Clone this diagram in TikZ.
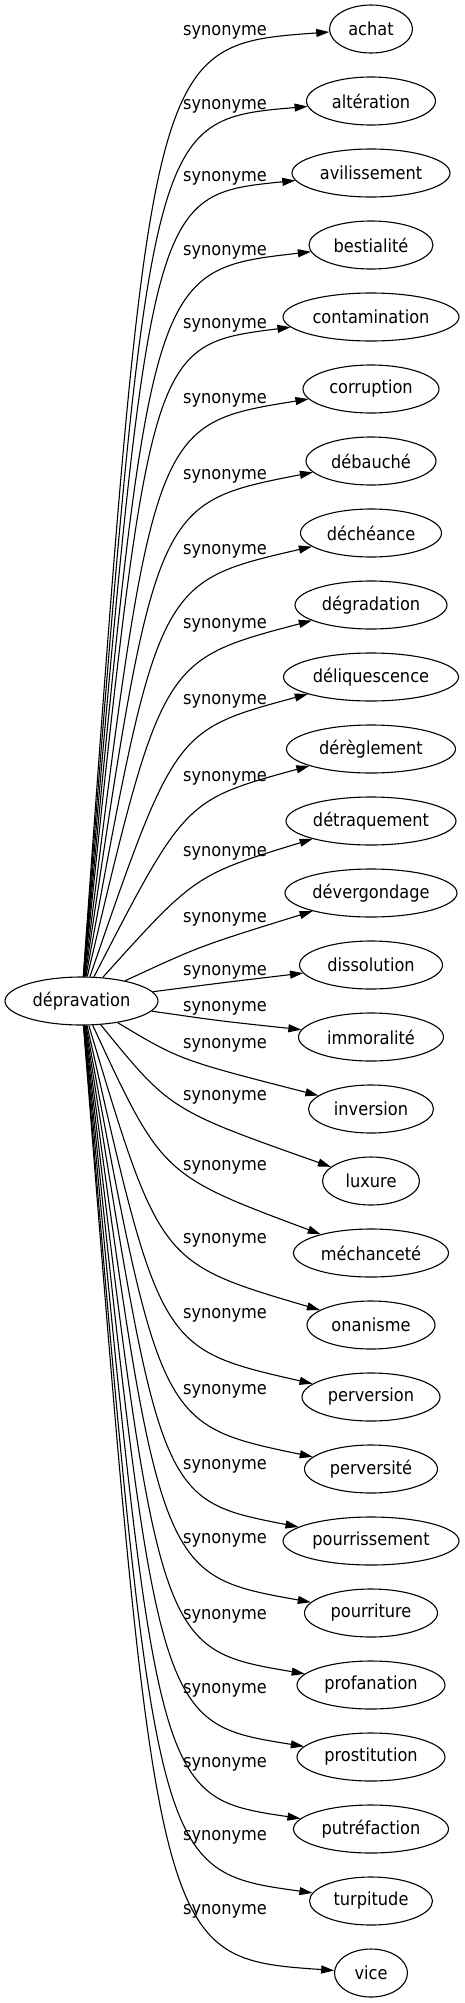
\documentclass[tikz,border=0pt]{standalone}
\usepackage{fontspec}
\setmainfont{DejaVu Sans}[FakeStretch=0.9]
\usetikzlibrary{shapes.geometric,arrows.meta}
\begin{document}
\begin{tikzpicture}[x=1pt,y=-1pt,
  every node/.style={font=\fontsize{18}{21}\selectfont},
  word/.style={ellipse,draw,line width=1.1pt,inner sep=0pt,minimum height=48pt},
  lab/.style={anchor=base,inner sep=0pt},
  edge/.style={draw,line width=1.1pt,-{Triangle[length=13pt,width=8pt]}}]
\useasboundingbox (0,0) rectangle (465,2003);
\node[word,minimum width=153pt] (dep) at (81.5,1001) {dépravation};
\foreach \i/\txt/\w/\f/\cx/\ly in {
0/achat/83/16/150/30,
1/altération/129/19/150/104,
2/avilissement/158/22/150/176,
3/bestialité/124/25/150/250,
4/contamination/176/28/150/323,
5/corruption/136/35/153/398,
6/débauché/130/42/155/474,
7/déchéance/141/49/158/549,
8/dégradation/152/55/162/623,
9/déliquescence/175/53/175/699,
10/dérèglement/169/51/185/776,
11/détraquement/170/54/195/851,
12/dévergondage/172/53/200/917,
13/dissolution/143/18/220/970,
14/immoralité/145/-16/220/1006,
15/inversion/125/-49/180/1043,
16/luxure/97/-71/170/1095,
17/méchanceté/155/-78/162/1165,
18/onanisme/128/-62/160/1238,
19/perversion/138/-48/160/1313,
20/perversité/133/-44/160/1389,
21/pourrissement/176/-41/160/1464,
22/pourriture/133/-38/159/1538,
23/profanation/148/-36/158/1614,
24/prostitution/148/-34/157/1688,
25/putréfaction/155/-32/156/1762,
26/turpitude/123/-30/155/1835,
27/vice/73/-15/157/1909}
{
  \node[word,minimum width=\w pt] (n\i) at (371,{29+72*\i}) {\txt};
  \node[lab] (l\i) at (225,{\ly+5}) {synonyme};
  \draw[edge] (dep) .. controls ({\cx},{29+72*\i+\f}) .. (n\i);
}
\end{tikzpicture}
\end{document}
